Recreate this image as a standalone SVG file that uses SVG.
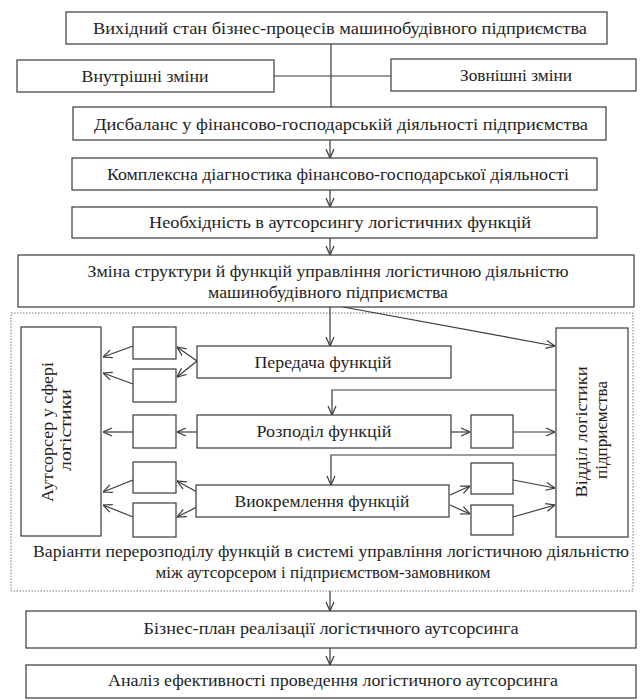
<svg xmlns="http://www.w3.org/2000/svg" width="640" height="700" viewBox="0 0 640 700" font-family="Liberation Serif, DejaVu Serif, serif">
<style>
.b{fill:#fff;stroke:#3a3a3a;stroke-width:1.2}
.t{font-family:'Liberation Serif','DejaVu Serif',serif;font-size:17px;fill:#1e1e1e;text-anchor:middle}
.c{fill:none;stroke:#3a3a3a;stroke-width:1.2}
.a{fill:none;stroke:#3a3a3a;stroke-width:1.2;marker-end:url(#ar)}
.f{fill:none;stroke:#777;stroke-width:1;stroke-dasharray:1.5 1.5}
</style>
<defs>
<marker id="ar" viewBox="0 0 10 10" refX="10" refY="5" markerWidth="10" markerHeight="10" markerUnits="userSpaceOnUse" orient="auto">
<path d="M1,1 L10,5 L1,9" fill="none" stroke="#3a3a3a" stroke-width="1.2"/>
</marker>
</defs>
<rect width="640" height="700" fill="#fff"/>
<g id="frame"><rect class="f" x="11" y="313" width="622" height="278"/>
<text class="t" x="331" y="557" textLength="596" lengthAdjust="spacingAndGlyphs">Варіанти перерозподілу функцій в системі управління логістичною діяльністю</text>
<text class="t" x="323" y="578" textLength="335" lengthAdjust="spacingAndGlyphs">між аутсорсером і підприємством-замовником</text>
</g>
<g id="connectors">
<line class="c" x1="331" y1="44" x2="331" y2="107"/>
<line class="c" x1="274" y1="76" x2="391" y2="76"/>
<line class="a" x1="330" y1="140" x2="330" y2="158"/>
<line class="a" x1="330" y1="190" x2="330" y2="207"/>
<line class="a" x1="330" y1="238" x2="330" y2="255"/>
<line class="a" x1="330" y1="307" x2="330" y2="346"/>
<line class="a" x1="343" y1="307" x2="555" y2="346"/>
<polyline class="a" points="556,390 332,390 332,415"/>
<polyline class="a" points="556,455 331,455 331,485"/>
<line class="a" x1="197" y1="361" x2="177" y2="347"/>
<line class="a" x1="197" y1="361" x2="177" y2="377"/>
<line class="a" x1="133" y1="346" x2="103" y2="357"/>
<line class="a" x1="133" y1="384" x2="103" y2="373"/>
<line class="a" x1="197" y1="432" x2="177" y2="432"/>
<line class="a" x1="133" y1="432" x2="103" y2="432"/>
<line class="a" x1="197" y1="492" x2="177" y2="481"/>
<line class="a" x1="197" y1="507" x2="177" y2="517"/>
<line class="a" x1="133" y1="480" x2="103" y2="492"/>
<line class="a" x1="133" y1="517" x2="103" y2="505"/>
<line class="a" x1="451" y1="432" x2="470" y2="432"/>
<line class="a" x1="513" y1="432" x2="555" y2="432"/>
<line class="a" x1="450" y1="495" x2="470" y2="486"/>
<line class="a" x1="450" y1="505" x2="470" y2="514"/>
<line class="a" x1="513" y1="480" x2="555" y2="488"/>
<line class="a" x1="513" y1="517" x2="555" y2="505"/>
<line class="a" x1="330" y1="591" x2="330" y2="611"/>
<line class="a" x1="330" y1="648" x2="330" y2="665"/>
</g>
<g id="n1"><rect class="b" x="66" y="12" width="541" height="32"/><text class="t" x="340" y="34" textLength="494" lengthAdjust="spacingAndGlyphs">Вихідний стан бізнес-процесів машинобудівного підприємства</text></g>
<g id="n2"><rect class="b" x="17" y="60" width="257" height="32"/><text class="t" x="145" y="82" textLength="127" lengthAdjust="spacingAndGlyphs">Внутрішні зміни</text></g>
<g id="n3"><rect class="b" x="391" y="59" width="245" height="32"/><text class="t" x="516" y="81" textLength="112" lengthAdjust="spacingAndGlyphs">Зовнішні зміни</text></g>
<g id="n4"><rect class="b" x="73" y="107" width="533" height="33"/><text class="t" x="341" y="130" textLength="494" lengthAdjust="spacingAndGlyphs">Дисбаланс у фінансово-господарській діяльності підприємства</text></g>
<g id="n5"><rect class="b" x="72" y="158" width="525" height="32"/><text class="t" x="338" y="180" textLength="462" lengthAdjust="spacingAndGlyphs">Комплексна діагностика фінансово-господарської діяльності</text></g>
<g id="n6"><rect class="b" x="72" y="207" width="525" height="31"/><text class="t" x="340" y="228" textLength="382" lengthAdjust="spacingAndGlyphs">Необхідність в аутсорсингу логістичних функцій</text></g>
<g id="n7"><rect class="b" x="18" y="255" width="616" height="52"/><text class="t" x="328" y="277" textLength="481" lengthAdjust="spacingAndGlyphs">Зміна структури й функцій управління логістичною діяльністю</text><text class="t" x="328" y="298" textLength="240" lengthAdjust="spacingAndGlyphs">машинобудівного підприємства</text></g>
<g id="n8"><rect class="b" x="21" y="327" width="80" height="209"/><text class="t" transform="translate(53,432) rotate(-90)" textLength="140" lengthAdjust="spacingAndGlyphs">Аутсорсер у сфері</text><text class="t" transform="translate(71,430) rotate(-90)" textLength="82" lengthAdjust="spacingAndGlyphs">логістики</text></g>
<g id="n9"><rect class="b" x="556" y="328" width="72" height="209"/><text class="t" transform="translate(587,432) rotate(-90)" textLength="131" lengthAdjust="spacingAndGlyphs">Відділ логістики</text><text class="t" transform="translate(607,430) rotate(-90)" textLength="98" lengthAdjust="spacingAndGlyphs">підприємства</text></g>
<g id="n10"><rect class="b" x="197" y="346" width="254" height="32"/><text class="t" x="323" y="368" textLength="137" lengthAdjust="spacingAndGlyphs">Передача функцій</text></g>
<g id="n11"><rect class="b" x="197" y="415" width="254" height="33"/><text class="t" x="324" y="437" textLength="135" lengthAdjust="spacingAndGlyphs">Розподіл функцій</text></g>
<g id="n12"><rect class="b" x="196" y="485" width="253" height="32"/><text class="t" x="322" y="507" textLength="175" lengthAdjust="spacingAndGlyphs">Виокремлення функцій</text></g>
<g id="s1"><rect class="b" x="133" y="327" width="43" height="32"/></g>
<g id="s2"><rect class="b" x="133" y="369" width="43" height="33"/></g>
<g id="s3"><rect class="b" x="133" y="415" width="43" height="33"/></g>
<g id="s4"><rect class="b" x="133" y="462" width="43" height="31"/></g>
<g id="s5"><rect class="b" x="133" y="503" width="43" height="34"/></g>
<g id="s6"><rect class="b" x="471" y="415" width="42" height="33"/></g>
<g id="s7"><rect class="b" x="471" y="463" width="42" height="31"/></g>
<g id="s8"><rect class="b" x="471" y="505" width="42" height="30"/></g>
<g id="n13"><rect class="b" x="26" y="611" width="610" height="37"/><text class="t" x="331" y="634" textLength="375" lengthAdjust="spacingAndGlyphs">Бізнес-план реалізації логістичного аутсорсинга</text></g>
<g id="n14"><rect class="b" x="26" y="665" width="610" height="33"/><text class="t" x="333" y="686" textLength="450" lengthAdjust="spacingAndGlyphs">Аналіз ефективності проведення логістичного аутсорсинга</text></g>
</svg>
